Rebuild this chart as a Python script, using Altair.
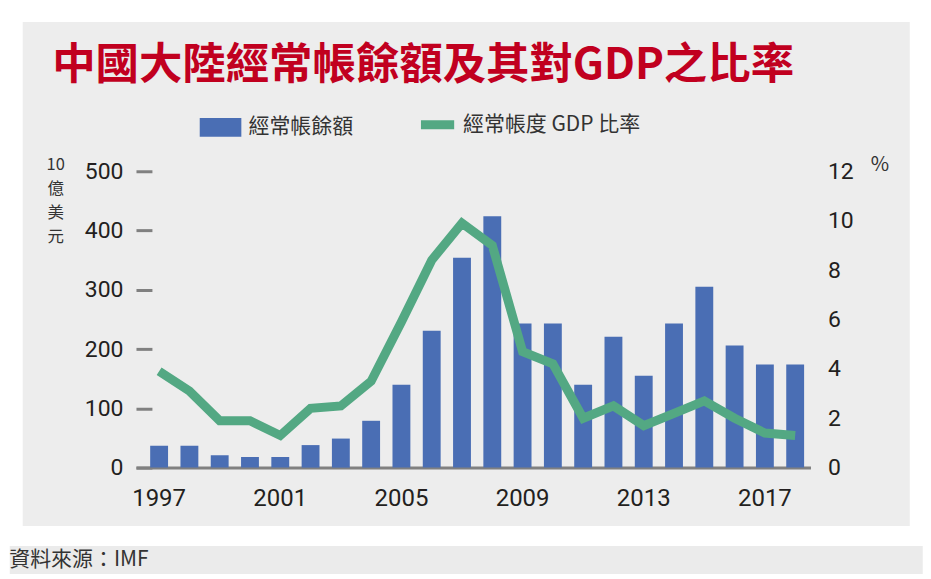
import altair as alt
import pandas as pd

# ---- data ----
years = list(range(1997, 2019))
current_account = [37, 37, 21, 18, 18, 38, 49, 79, 140, 231, 354, 424,
                   243, 243, 140, 221, 155, 243, 305, 206, 174, 174]
ratio_gdp = [3.9, 3.1, 1.9, 1.9, 1.3, 2.4, 2.5, 3.5, 5.9, 8.4, 9.9, 9.0,
             4.7, 4.2, 2.0, 2.5, 1.7, 2.2, 2.7, 2.0, 1.4, 1.3]
x_tick_years = [1997, 2001, 2005, 2009, 2013, 2017]
left_ticks = [0, 100, 200, 300, 400, 500]
right_ticks = [0, 2, 4, 6, 8, 10, 12]
series_names = ["經常帳餘額", "經常帳度 GDP 比率"]
title_text = "中國大陸經常帳餘額及其對GDP之比率"
left_unit = ["10", "億", "美", "元"]
right_unit = "%"
source_text = "資料來源：IMF"

BLUE = "#4a6eb4"
GREEN = "#53a883"
RED = "#c1001f"
GRAY = "#808080"
TXT = "#231f20"
CJK = "Noto Sans CJK TC"
NUM = "Roboto"

df = pd.DataFrame({
    "year": years,
    "ca": current_account,
    "ratio": ratio_gdp,
    "s_bar": [series_names[0]] * len(years),
    "s_line": [series_names[1]] * len(years),
})

W, H = 889, 505
y_range = [447, 150]

x_enc = alt.X(
    "year:O",
    scale=alt.Scale(range=[114, 790], paddingInner=0.41, paddingOuter=0.34, align=0.69),
    axis=alt.Axis(
        values=x_tick_years, title=None, orient="bottom", offset=-58,
        domainColor=GRAY, domainWidth=3, ticks=False, tickSize=0,
        labelAngle=0, labelFont=NUM, labelFontSize=24, labelColor=TXT,
        labelPadding=19, grid=False,
    ),
)

bars = alt.Chart(df).mark_bar().encode(
    x=x_enc,
    y=alt.Y(
        "ca:Q",
        scale=alt.Scale(domain=[0, 500], range=y_range, nice=False, zero=True),
        axis=alt.Axis(
            orient="left", values=left_ticks, offset=-130, tickSize=16, tickWidth=3,
            tickColor=GRAY, domain=False, grid=False, labelFont=NUM, labelFontSize=23,
            labelColor=TXT, labelPadding=13,
            title=left_unit, titleAngle=0, titleX=-97, titleY=135, titleAlign="center",
            titleBaseline="top", titleFont=CJK, titleFontSize=16.5, titleFontWeight="normal",
            titleColor="#333333", titleLineHeight=24,
        ),
    ),
    color=alt.Color(
        "s_bar:N",
        scale=alt.Scale(domain=[series_names[0]], range=[BLUE]),
        legend=alt.Legend(
            orient="none", legendX=191, legendY=85, title=None,
            symbolType="M-1,-0.448H1V0.448H-1Z", symbolSize=1739, symbolStrokeWidth=0,
            labelFont=CJK, labelFontSize=21, labelColor="#333333", labelOffset=7,
            padding=0, labelLimit=400,
        ),
    ),
)

line = alt.Chart(df).mark_line(strokeWidth=9, strokeJoin="miter").encode(
    x=alt.X("year:O"),
    y=alt.Y(
        "ratio:Q",
        scale=alt.Scale(domain=[0, 12], range=y_range, nice=False, zero=True),
        axis=alt.Axis(
            orient="right", values=right_ticks, offset=-99, ticks=False, tickSize=0,
            domain=False, grid=False, labelFont=NUM, labelFontSize=23, labelColor=TXT,
            labelPadding=17,
            title=right_unit, titleAngle=0, titleX=69, titleY=143, titleAlign="center",
            titleBaseline="middle", titleFont=CJK, titleFontSize=20,
            titleFontWeight="normal", titleColor="#333333",
        ),
    ),
    stroke=alt.Stroke(
        "s_line:N",
        scale=alt.Scale(domain=[series_names[1]], range=[GREEN]),
        legend=alt.Legend(
            orient="none", legendX=408, legendY=82, title=None,
            symbolType="stroke", symbolSize=1109, symbolStrokeWidth=9,
            labelFont=CJK, labelFontSize=21, labelColor="#333333", labelOffset=4,
            padding=0, labelLimit=400,
        ),
    ),
)

main = alt.layer(bars, line).resolve_scale(y="independent").properties(
    width=W, height=H,
    title=alt.TitleParams(
        text=title_text, anchor="start", frame="group", offset=-101, dx=30,
        font=CJK, fontSize=43.5, fontWeight="bold", color=RED, baseline="alphabetic",
    ),
    view=alt.ViewBackground(fill="#ededed", stroke="transparent"),
)

footer = alt.Chart(pd.DataFrame({"t": [source_text]})).mark_text(
    align="left", baseline="middle", font=CJK, fontSize=21, color="#333333"
).encode(
    text="t:N", x=alt.value(0), y=alt.value(15)
).properties(
    width=915, height=28,
    view=alt.ViewBackground(fill="#ebebeb", stroke="transparent"),
)

chart = alt.vconcat(main, footer, spacing=18, center=True).configure(
    background="white",
    padding={"left": 0, "top": 12, "right": 0, "bottom": 0},
).configure_view(stroke="transparent")

chart.save("out.html", embed_options={"renderer": "svg", "actions": False})
